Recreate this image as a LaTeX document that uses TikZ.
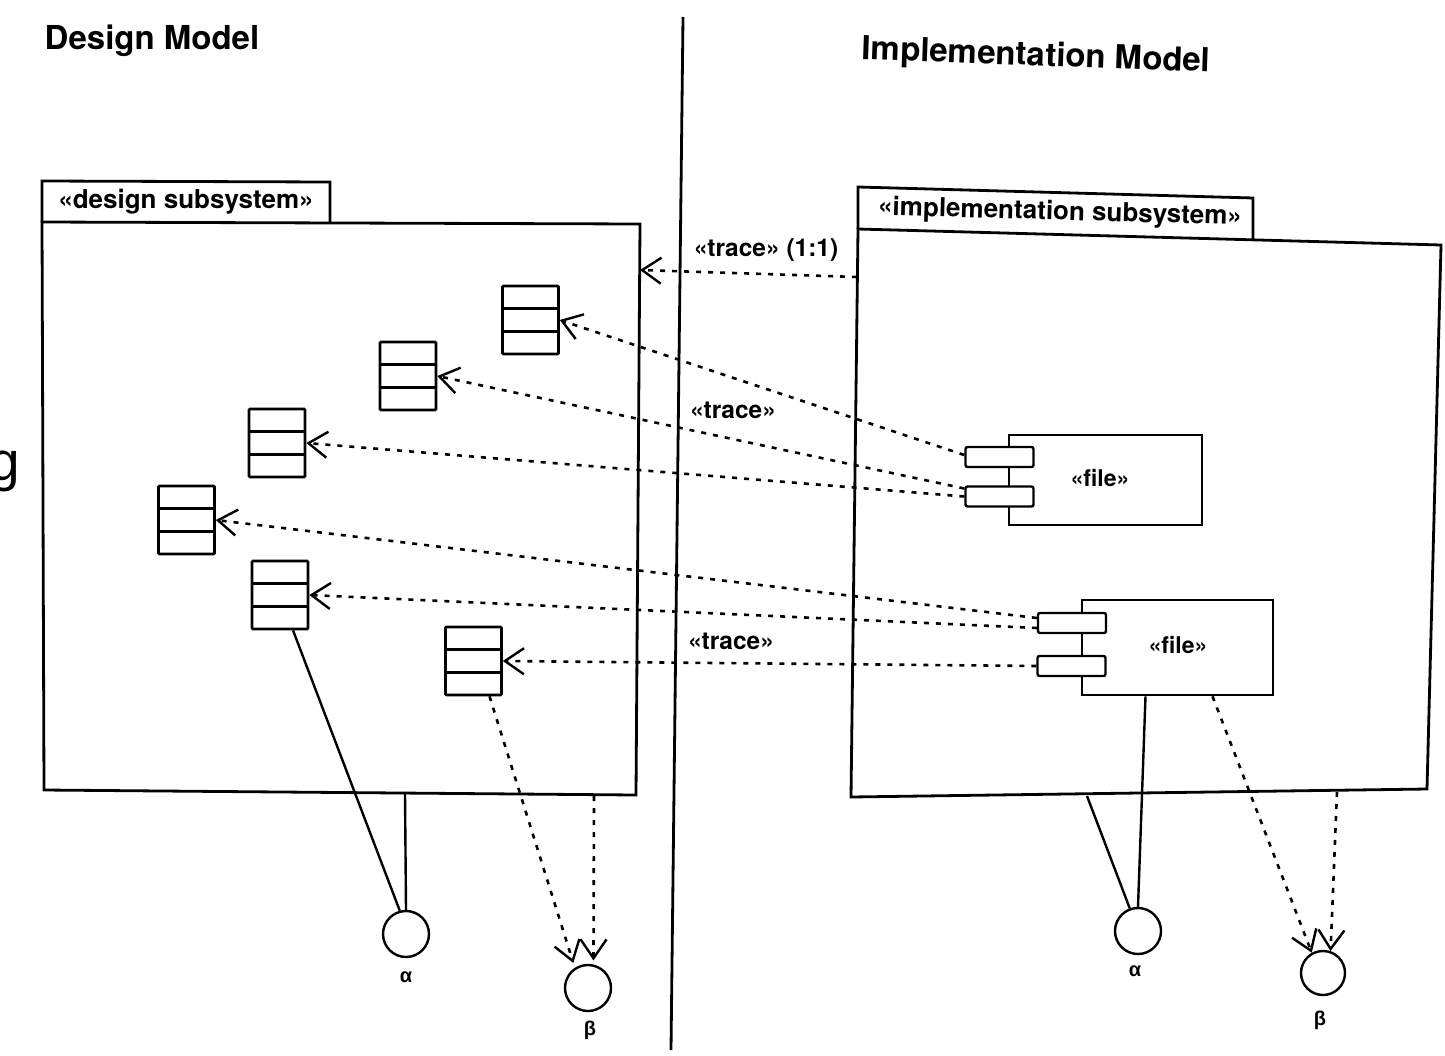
\documentclass[tikz,border=0pt]{standalone}
\usepackage{fontspec}
\setmainfont{TeX Gyre Heros}
\newfontfamily\gfont{Liberation Sans}
\usetikzlibrary{arrows.meta}
\begin{document}
\begin{tikzpicture}[x=1pt,y=-1pt,
  ln/.style={line width=2.8pt, line join=miter},
  lbl/.style={font=\bfseries\fontsize{24.5}{27}\selectfont, inner sep=0},
  filelbl/.style={font=\bfseries\fontsize{23}{26}\selectfont, inner sep=0},
  tablbl/.style={font=\bfseries\fontsize{26}{29}\selectfont, inner sep=0},
  title/.style={font=\bfseries\fontsize{33}{36}\selectfont, inner sep=0},
  greek/.style={font=\gfont\bfseries\fontsize{20}{24}\selectfont, inner sep=0},
  classbox/.style={draw, line width=2.6pt, minimum width=56pt, minimum height=68pt, inner sep=0, rounded corners=1pt,
    path picture={\draw[line width=2.6pt]
      ([yshift=-22.7pt]path picture bounding box.north west) -- ([yshift=-22.7pt]path picture bounding box.north east)
      ([yshift=22.7pt]path picture bounding box.south west) -- ([yshift=22.7pt]path picture bounding box.south east);}},
  port/.style={draw, fill=white, line width=2.4pt, minimum width=68pt, minimum height=20pt, inner sep=0, rounded corners=2pt},
  comp/.style={draw, line width=2.6pt, inner sep=0},
  iface/.style={circle, draw, line width=2.4pt, minimum size=46pt, inner sep=0},
  dep/.style={line width=2.6pt, dash pattern=on 5pt off 7pt, -{Straight Barb[length=19pt,width=26pt,line width=2.4pt]}},
  solidln/.style={line width=2.4pt}
]
\fill[white] (0,0) rectangle (1445,1055);
\useasboundingbox (0,0) rectangle (1445,1055);

% stray letter at left edge
\node[anchor=base west, inner sep=0, font=\gfont\fontsize{55}{60}\selectfont] (gg) at (-11,480) {g};

% divider
\coordinate (divT) at (683,17);
\coordinate (divB) at (671,1050);
\draw[ln] (divT) -- (divB);

% titles
\node[title] (dmodel) at (152,41) {Design Model};
\node[title, rotate=-2] (imodel) at (1036,57) {Implementation Model};

% design subsystem package
\coordinate (dTabNW) at (42,181);
\coordinate (dTabNE) at (330,182);
\coordinate (dTabSE) at (330,223);
\coordinate (dNW) at (42,222);
\coordinate (dNE) at (640,224);
\coordinate (dSE) at (636,795);
\coordinate (dSW) at (44,790);
\draw[ln] (dNW) -- (dTabNW) -- (dTabNE) -- (dTabSE);
\draw[ln] (dNW) -- (dNE) -- (dSE) -- (dSW) -- cycle;
\node[tablbl] (dtab) at (186,202) {«design subsystem»};

% implementation subsystem package
\coordinate (iTabNW) at (858,187);
\coordinate (iTabNE) at (1253,198);
\coordinate (iTabSE) at (1253,240);
\coordinate (iNW) at (858,229);
\coordinate (iNE) at (1441,245);
\coordinate (iSE) at (1427,789);
\coordinate (iSW) at (851,797);
\draw[ln] (iNW) -- (iTabNW) -- (iTabNE) -- (iTabSE);
\draw[ln] (iNW) -- (iNE) -- (iSE) -- (iSW) -- cycle;
\node[tablbl, rotate=-1.6] (itab) at (1060,213) {«implementation subsystem»};

% classes
\node[classbox] (c1) at (530.5,320) {};
\node[classbox] (c2) at (408,376) {};
\node[classbox] (c3) at (277,443) {};
\node[classbox] (c4) at (186.5,520) {};
\node[classbox] (c5) at (280,595) {};
\node[classbox] (c6) at (473.5,661) {};

% components
\node[comp, minimum width=193pt, minimum height=90pt] (f1) at (1105.5,480) {};
\node[filelbl] (f1t) at (1100,478) {«file»};
\node[comp, minimum width=191pt, minimum height=95pt] (f2) at (1177.5,647.5) {};
\node[filelbl] (f2t) at (1178,645) {«file»};

% trace (1:1)
\coordinate (tr1s) at (857,277);
\coordinate (tr1e) at (640,270);
\draw[dep] (tr1s) -- (tr1e);
\node[lbl] (tr1l) at (766,250) {«trace» (1:1)};

% ports
\node[port] (p1) at (999.5,457) {};
\node[port] (p2) at (999.5,496.5) {};
\node[port] (p3) at (1072,623) {};
\node[port] (p4) at (1071.5,666) {};

% traces from ports to classes
\draw[dep] ([yshift=2pt]p1.west) -- (c1.east);
\draw[dep] ([yshift=8pt]p2.west) -- (c2.east);
\draw[dep] ([yshift=0pt]p2.west) -- (c3.east);
\draw[dep] ([yshift=5pt]p3.west) -- (c4.east);
\draw[dep] ([yshift=-5pt]p3.west) -- (c5.east);
\draw[dep] (p4.west) -- (c6.east);

\node[lbl] (tr2l) at (733,410) {«trace»};
\node[lbl] (tr3l) at (731,641) {«trace»};

% design side interfaces
\node[iface] (aD) at (406,934) {};
\node[iface] (bD) at (588,988) {};
\node[greek] (aDl) at (406,977) {α};
\node[greek] (bDl) at (590,1030) {β};
\coordinate (dA) at (405,794);
\coordinate (dB) at (594,796);
\draw[solidln] (dA) -- (aD.north);
\draw[solidln] ([xshift=13pt]c5.south) -- (aD.105);
\draw[dep, shorten >=5pt] ([xshift=16pt]c6.south) -- (bD.123);
\draw[dep, shorten >=4pt] (dB) -- (bD.77);

% implementation side interfaces
\node[iface] (aI) at (1138,931) {};
\node[iface, minimum size=44pt] (bI) at (1323,973) {};
\node[greek] (aIl) at (1135,971) {α};
\node[greek] (bIl) at (1320,1020) {β};
\coordinate (iA) at (1087,796);
\coordinate (iB) at (1337,792);
\draw[solidln] ([xshift=-32pt]f2.south) -- (aI.north);
\draw[solidln] (iA) -- (aI.110);
\draw[dep] ([xshift=35pt]f2.south) -- (bI.119);
\draw[dep] (iB) -- (bI.71);
\end{tikzpicture}
\end{document}
